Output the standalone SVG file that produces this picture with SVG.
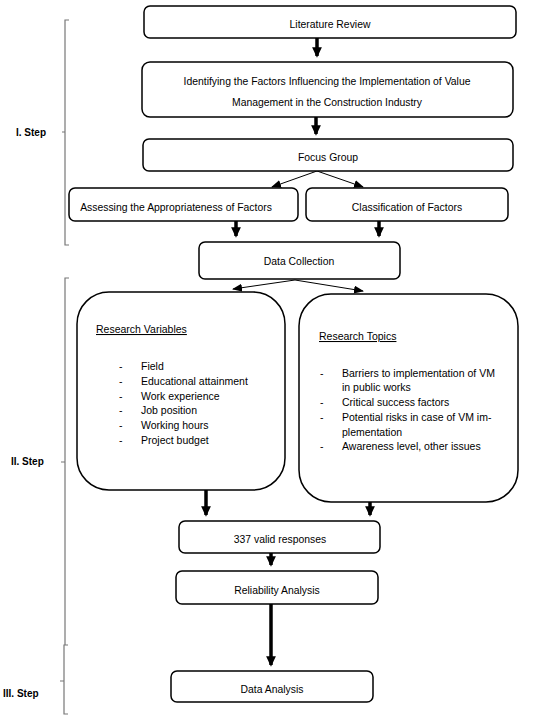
<svg xmlns="http://www.w3.org/2000/svg" width="550" height="720" viewBox="0 0 550 720">
<style>
.box{fill:#fff;stroke:#000;stroke-width:1.5}
.t{font-family:"Liberation Sans",Arial,sans-serif;font-size:10.4px;fill:#000}
.c{text-anchor:middle}
.l{font-family:"Liberation Sans",Arial,sans-serif;font-size:10.5px;fill:#000}
.u{text-decoration:underline}
.step{font-family:"Liberation Sans",Arial,sans-serif;font-size:10px;font-weight:bold;fill:#000}
.thick{stroke:#000;stroke-width:3.5;fill:none}
.thin{stroke:#000;stroke-width:1;fill:none}
.br{stroke:#777;stroke-width:1.2;fill:none}
</style>
<defs>
<marker id="ah" markerWidth="4" markerHeight="4" refX="2.5" refY="2" orient="auto" markerUnits="strokeWidth">
<path d="M0,0.6 L3,2 L0,3.4 Z" fill="#000"/>
</marker>
<marker id="ah2" markerWidth="10" markerHeight="8" refX="9" refY="4" orient="auto" markerUnits="userSpaceOnUse">
<path d="M0,0 L10,4 L0,8 Z" fill="#000"/>
</marker>
</defs>
<rect width="550" height="720" fill="#fff"/>
<g id="brackets">
<path class="br" d="M69,20 H65 V245 H69 M65,132 H62"/>
<path class="br" d="M69,278 H65 V645 M65,462 H61"/>
<path class="br" d="M68,645 H64 V714 H68 M64,681 H60"/>
</g>
<g id="labels">
<text class="step" x="16" y="136">I. Step</text>
<text class="step" x="11" y="465">II. Step</text>
<text class="step" x="3" y="697">III. Step</text>
</g>
<g id="connectors">
<line class="thick" x1="317" y1="38" x2="317" y2="56" marker-end="url(#ah)"/>
<line class="thick" x1="316" y1="117" x2="316" y2="134" marker-end="url(#ah)"/>
<line class="thin" x1="317" y1="171" x2="272" y2="187" marker-end="url(#ah2)"/>
<line class="thin" x1="317" y1="171" x2="363" y2="187" marker-end="url(#ah2)"/>
<line class="thick" x1="236" y1="221" x2="236" y2="236" marker-end="url(#ah)"/>
<line class="thick" x1="379" y1="221" x2="379" y2="236" marker-end="url(#ah)"/>
<line class="thin" x1="295" y1="280" x2="233" y2="289" marker-end="url(#ah2)"/>
<line class="thin" x1="295" y1="280" x2="363" y2="291" marker-end="url(#ah2)"/>
<line class="thick" x1="206" y1="490" x2="206" y2="515" marker-end="url(#ah)"/>
<line class="thick" x1="370" y1="502" x2="370" y2="515" marker-end="url(#ah)"/>
<line class="thick" x1="271" y1="553" x2="271" y2="565" marker-end="url(#ah)"/>
<line class="thick" x1="271" y1="604" x2="271" y2="665" marker-end="url(#ah)"/>
</g>
<g id="literature-review">
<rect class="box" x="144" y="6" width="372" height="32" rx="6"/>
<text class="t c" x="330" y="28">Literature Review</text>
</g>
<g id="identifying-factors">
<rect class="box" x="142" y="62" width="371" height="55" rx="8"/>
<text class="t c" x="327" y="85">Identifying the Factors Influencing the Implementation of Value</text>
<text class="t c" x="327" y="106">Management in the Construction Industry</text>
</g>
<g id="focus-group">
<rect class="box" x="143" y="139" width="370" height="32" rx="6"/>
<text class="t c" x="328" y="161">Focus Group</text>
</g>
<g id="assessing">
<rect class="box" x="69" y="188" width="229" height="33" rx="6"/>
<text class="t c" x="176" y="211">Assessing the Appropriateness of Factors</text>
</g>
<g id="classification">
<rect class="box" x="306" y="188" width="202" height="33" rx="6"/>
<text class="t c" x="407" y="211">Classification of Factors</text>
</g>
<g id="data-collection">
<rect class="box" x="199" y="242" width="201" height="37" rx="6"/>
<text class="t c" x="299" y="265">Data Collection</text>
</g>
<g id="research-variables">
<rect class="box" x="77" y="292" width="208" height="198" rx="32"/>
<text class="l u" x="96" y="333">Research Variables</text>
<g class="l">
<text x="119" y="370">-</text><text x="141" y="370">Field</text>
<text x="119" y="385">-</text><text x="141" y="385">Educational attainment</text>
<text x="119" y="400">-</text><text x="141" y="400">Work experience</text>
<text x="119" y="414">-</text><text x="141" y="414">Job position</text>
<text x="119" y="429">-</text><text x="141" y="429">Working hours</text>
<text x="119" y="444">-</text><text x="141" y="444">Project budget</text>
</g>
</g>
<g id="research-topics">
<rect class="box" x="299" y="294" width="219" height="208" rx="32"/>
<text class="l u" x="319" y="340">Research Topics</text>
<g class="l">
<text x="320" y="377">-</text><text x="342" y="377">Barriers to implementation of VM</text>
<text x="342" y="391">in public works</text>
<text x="320" y="406">-</text><text x="342" y="406">Critical success factors</text>
<text x="320" y="421">-</text><text x="342" y="421">Potential risks in case of VM im-</text>
<text x="342" y="436">plementation</text>
<text x="320" y="450">-</text><text x="342" y="450">Awareness level, other issues</text>
</g>
</g>
<g id="valid-responses">
<rect class="box" x="179" y="521" width="201" height="32" rx="6"/>
<text class="t c" x="280" y="543">337 valid responses</text>
</g>
<g id="reliability">
<rect class="box" x="176" y="571" width="202" height="33" rx="6"/>
<text class="t c" x="277" y="594">Reliability Analysis</text>
</g>
<g id="data-analysis">
<rect class="box" x="171" y="671" width="202" height="31" rx="6"/>
<text class="t c" x="272" y="693">Data Analysis</text>
</g>
</svg>
